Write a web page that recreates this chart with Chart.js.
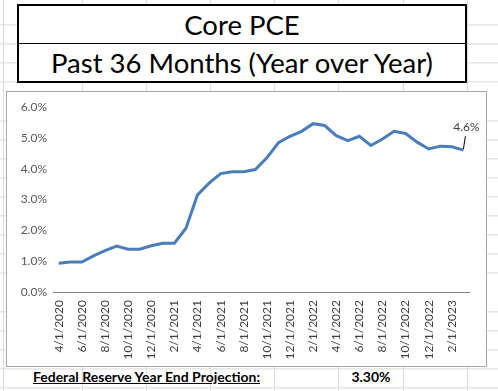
<!DOCTYPE html>
<html>
<head>
<meta charset="utf-8">
<script src="https://cdn.jsdelivr.net/npm/chart.js@4"></script>
<style>
  html, body { margin: 0; padding: 0; }
  body {
    width: 498px; height: 391px; overflow: hidden; position: relative;
    font-family: Lato, "Open Sans", sans-serif;
    background-color: #fff;
    /* spreadsheet gridlines */
    background-image:
      repeating-linear-gradient(to bottom, transparent 0, transparent 18.1px, #d9d9d9 18.1px, #d9d9d9 19.1px),
      repeating-linear-gradient(to right, transparent 0, transparent 63.1px, #d9d9d9 63.1px, #d9d9d9 64.1px);
    background-position: 0 6.4px, 18.9px 0;
  }
  .leftline { position: absolute; left: 3px; top: 0; width: 1px; height: 391px; background: #d9d9d9; }
  .titlebox {
    position: absolute; left: 17px; top: 4px; width: 446px; height: 75px;
    border: 2px solid #000; background: #fff;
  }
  .titlebox div {
    height: 38px; line-height: 38px; text-align: center;
    font-size: 27.5px; color: #000;
  }
  .titlebox div.first { border-bottom: 1px solid #000; height: 37px; }
  .chartbox {
    position: absolute; left: 6px; top: 91px; width: 479px; height: 274px;
    border: 1px solid #a6a6a6; background: #fff;
  }
  .chartbox canvas { display: block; }
  .note {
    position: absolute; top: 367px; height: 20px; line-height: 20px;
    font-weight: bold; font-size: 14px; color: #000; text-align: center;
  }
</style>
</head>
<body>
<div class="leftline"></div>
<div class="titlebox">
  <div class="first">Core PCE</div>
  <div>Past 36 Months (Year over Year)</div>
</div>
<div class="chartbox"><canvas id="pceChart" width="479" height="274"></canvas></div>
<div class="note" style="left:18px;width:257px;"><u>Federal Reserve Year End Projection:</u></div>
<div class="note" style="left:275px;width:192px;">3.30%</div>

<script>
// Monthly dates, 4/1/2020 .. 3/1/2023
const months = [
    '4/1/2020', '5/1/2020', '6/1/2020', '7/1/2020', '8/1/2020', '9/1/2020',
    '10/1/2020', '11/1/2020', '12/1/2020',
    '1/1/2021', '2/1/2021', '3/1/2021', '4/1/2021', '5/1/2021', '6/1/2021',
    '7/1/2021', '8/1/2021', '9/1/2021', '10/1/2021', '11/1/2021', '12/1/2021',
    '1/1/2022', '2/1/2022', '3/1/2022', '4/1/2022', '5/1/2022', '6/1/2022',
    '7/1/2022', '8/1/2022', '9/1/2022', '10/1/2022', '11/1/2022', '12/1/2022',
    '1/1/2023', '2/1/2023', '3/1/2023'
];

// Core PCE, year over year (%)
const corePce = [
    0.93, 0.97, 0.97, 1.17, 1.34, 1.49, 1.39, 1.39, 1.50,
    1.58, 1.58, 2.07, 3.15, 3.53, 3.84, 3.90, 3.90, 3.97, 4.35, 4.84, 5.05,
    5.21, 5.46, 5.40, 5.07, 4.91, 5.05, 4.75, 4.96, 5.21, 5.14, 4.86, 4.64,
    4.73, 4.71, 4.60
];

const yTicks = [0, 1, 2, 3, 4, 5, 6];

// Label on the last point with a short leader line
const lastLabel = {
    id: 'lastLabel',
    afterDatasetsDraw(chart) {
        const meta = chart.getDatasetMeta(0);
        const pt = meta.data[meta.data.length - 1];
        const ctx = chart.ctx;
        ctx.save();
        ctx.strokeStyle = '#000';
        ctx.lineWidth = 1;
        ctx.beginPath();
        ctx.moveTo(pt.x, pt.y - 1);
        ctx.lineTo(pt.x + 2, pt.y - 14);
        ctx.stroke();
        ctx.fillStyle = '#404040';
        ctx.font = '12px Lato, sans-serif';
        ctx.textAlign = 'center';
        ctx.textBaseline = 'middle';
        const v = corePce[corePce.length - 1];
        ctx.fillText(v.toFixed(1) + '%', pt.x + 3, pt.y - 23);
        ctx.restore();
    }
};

new Chart(document.getElementById('pceChart'), {
    type: 'line',
    data: {
        labels: months,
        datasets: [{
            data: corePce,
            borderColor: '#4A7EBB',
            borderWidth: 3,
            pointRadius: 0,
            tension: 0,
            fill: false
        }]
    },
    options: {
        responsive: false,
        animation: false,
        layout: { padding: { top: 15, right: 14, left: 0, bottom: 0 } },
        plugins: { legend: { display: false }, tooltip: { enabled: false } },
        scales: {
            x: {
                offset: true,
                grid: { display: false, drawTicks: false },
                border: { display: true, color: '#868686', width: 1 },
                afterFit: s => { s.height = 74; },
                ticks: {
                    autoSkip: false,
                    maxRotation: 90,
                    minRotation: 90,
                    padding: 8,
                    color: '#404040',
                    font: { family: 'Lato', size: 12 },
                    callback: (v, i) => (i % 2 === 0 ? months[i] : '')
                }
            },
            y: {
                min: yTicks[0],
                max: yTicks[yTicks.length - 1],
                grid: { display: false, drawTicks: false },
                border: { display: false },
                afterFit: s => { s.width = 46; },
                afterBuildTicks: s => { s.ticks = yTicks.map(v => ({ value: v })); },
                ticks: {
                    padding: 6,
                    color: '#595959',
                    font: { family: 'Lato', size: 12 },
                    callback: v => v.toFixed(1) + '%'
                }
            }
        }
    },
    plugins: [lastLabel]
});
</script>
</body>
</html>
